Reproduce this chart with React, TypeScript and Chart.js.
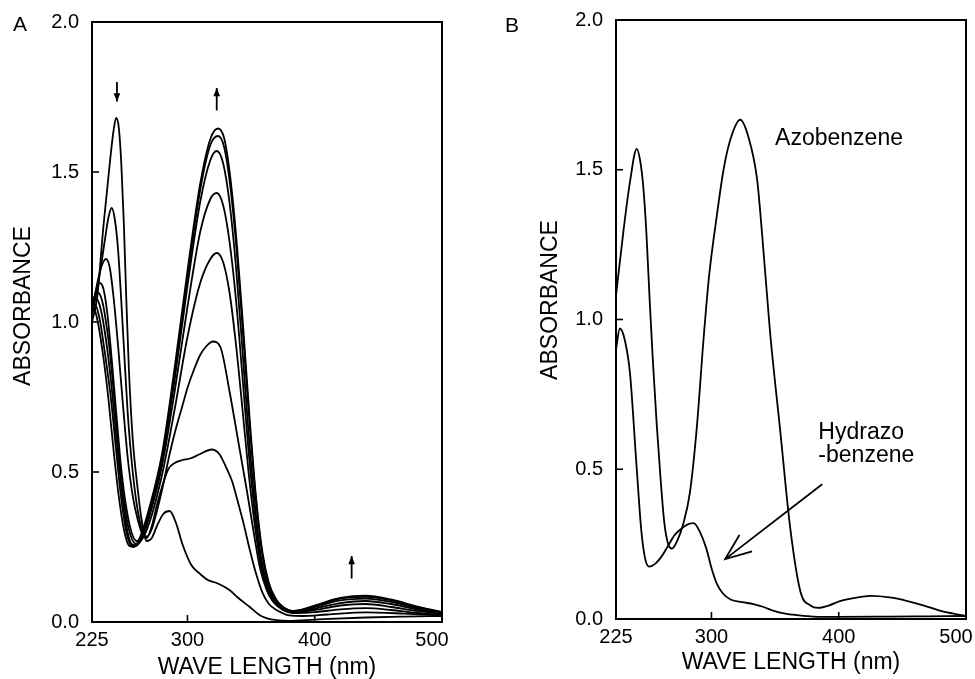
import React, { useEffect, useRef } from "react";
import { Chart, registerables } from "chart.js";

Chart.register(...registerables);

const FONT = "'Liberation Sans', Arial, Helvetica, sans-serif";

// ---------- Panel A: spectra over time (8 curves) ----------
const wlA0 = [225, 229, 234, 239, 242, 244, 246, 248, 250, 252, 254, 257, 261, 264, 268, 272, 276, 281, 286, 291, 296, 303, 310, 316, 323, 333, 340, 349, 356, 362, 370, 380, 400, 440, 470, 500];
const absA0 = [1.0, 1.08, 1.32, 1.53, 1.64, 1.68, 1.65, 1.53, 1.33, 1.07, 0.84, 0.61, 0.44, 0.34, 0.27, 0.28, 0.32, 0.36, 0.37, 0.33, 0.26, 0.19, 0.16, 0.14, 0.13, 0.107, 0.08, 0.05, 0.025, 0.013, 0.006, 0.004, 0.008, 0.015, 0.018, 0.02];

const wlA1 = [225, 230, 235, 238, 240.5, 243, 245.5, 248, 250, 253, 257, 261, 265, 268, 272, 276, 280, 285, 290, 296, 302, 310, 319, 325, 331, 335, 339, 344, 349, 354, 359, 364, 370, 380, 390, 410, 440, 470, 500];
const absA1 = [1.02, 1.13, 1.27, 1.35, 1.38, 1.34, 1.24, 1.07, 0.92, 0.7, 0.5, 0.37, 0.3, 0.28, 0.32, 0.39, 0.45, 0.51, 0.53, 0.54, 0.545, 0.56, 0.575, 0.56, 0.51, 0.47, 0.41, 0.33, 0.24, 0.16, 0.097, 0.06, 0.04, 0.022, 0.02, 0.025, 0.032, 0.028, 0.022];

const wlA2 = [225, 228.7, 232, 236, 239, 242, 245.7, 249, 253, 257, 261, 265, 268, 272, 276, 280, 286, 290, 296, 300, 305, 310, 315, 320, 326, 333, 340, 347, 352, 357, 362, 367, 375, 385, 400, 420, 440, 460, 480, 500];
const absA2 = [1.04, 1.12, 1.18, 1.21, 1.18, 1.08, 0.91, 0.74, 0.55, 0.42, 0.34, 0.29, 0.285, 0.31, 0.37, 0.44, 0.56, 0.63, 0.72, 0.78, 0.84, 0.89, 0.92, 0.935, 0.915, 0.77, 0.6, 0.43, 0.3, 0.18, 0.11, 0.07, 0.042, 0.03, 0.033, 0.042, 0.046, 0.04, 0.03, 0.025];

const wlA3 = [225, 228, 231, 234, 237, 240, 244, 248, 252, 256, 260, 264, 270, 280, 290, 300, 310, 318, 323, 328, 333, 338, 343, 348, 353, 358, 363, 368, 375, 383, 400, 420, 440, 460, 480, 500];
const absA3 = [1.05, 1.1, 1.13, 1.11, 1.03, 0.9, 0.7, 0.51, 0.38, 0.3, 0.27, 0.275, 0.33, 0.49, 0.71, 0.95, 1.13, 1.21, 1.23, 1.2, 1.1, 0.93, 0.72, 0.5, 0.32, 0.18, 0.1, 0.065, 0.04, 0.03, 0.04, 0.055, 0.06, 0.05, 0.037, 0.028];

const wlA4 = [225, 229, 233, 237, 240, 244, 248, 252, 256, 260, 264, 270, 280, 290, 300, 310, 318, 323, 328, 333, 338, 343, 348, 353, 358, 363, 368, 375, 383, 400, 420, 440, 460, 480, 500];
const absA4 = [1.06, 1.1, 1.07, 0.97, 0.86, 0.67, 0.48, 0.35, 0.28, 0.26, 0.275, 0.35, 0.52, 0.77, 1.05, 1.3, 1.41, 1.43, 1.39, 1.27, 1.08, 0.83, 0.57, 0.36, 0.2, 0.11, 0.07, 0.045, 0.033, 0.045, 0.063, 0.07, 0.06, 0.042, 0.03];

const wlA5 = [225, 228, 232, 236, 240, 244, 248, 252, 256, 260, 265, 270, 280, 290, 300, 310, 318, 323, 328, 333, 338, 343, 348, 353, 358, 363, 368, 375, 383, 400, 420, 440, 460, 480, 500];
const absA5 = [1.06, 1.08, 1.04, 0.94, 0.8, 0.62, 0.45, 0.32, 0.26, 0.255, 0.29, 0.36, 0.54, 0.81, 1.12, 1.4, 1.54, 1.57, 1.53, 1.4, 1.19, 0.92, 0.63, 0.39, 0.21, 0.12, 0.075, 0.046, 0.035, 0.05, 0.072, 0.078, 0.067, 0.046, 0.031];

const wlA6 = [225, 227, 231, 235, 240, 244, 248, 252, 256, 260, 265, 270, 280, 290, 300, 310, 318, 324, 329, 334, 339, 344, 349, 354, 359, 364, 369, 375, 383, 400, 420, 440, 460, 480, 500];
const absA6 = [1.05, 1.06, 1.01, 0.9, 0.74, 0.57, 0.41, 0.3, 0.255, 0.255, 0.295, 0.37, 0.55, 0.83, 1.15, 1.44, 1.59, 1.62, 1.58, 1.44, 1.22, 0.94, 0.65, 0.4, 0.22, 0.12, 0.075, 0.05, 0.036, 0.052, 0.078, 0.084, 0.072, 0.05, 0.032];

const wlA7 = [225, 226, 230, 234, 238, 242, 246, 250, 254, 258, 263, 270, 280, 290, 300, 310, 318, 324, 329, 334, 339, 344, 349, 354, 359, 364, 369, 375, 383, 400, 420, 440, 460, 480, 500];
const absA7 = [1.05, 1.05, 0.99, 0.88, 0.74, 0.57, 0.42, 0.31, 0.255, 0.25, 0.285, 0.38, 0.56, 0.85, 1.17, 1.46, 1.61, 1.645, 1.61, 1.47, 1.25, 0.97, 0.67, 0.41, 0.23, 0.13, 0.08, 0.05, 0.037, 0.055, 0.08, 0.088, 0.075, 0.052, 0.033];

// ---------- Panel B: reference spectra ----------
const wlAzo = [225, 230.7, 236, 241.3, 244, 246.5, 249, 251.5, 254, 257, 260, 263, 266, 269, 273, 278, 283, 288.5, 293.7, 298, 304, 309.5, 314.8, 322.6, 329, 335.8, 339.7, 346, 354, 362, 370, 377.8, 384, 392, 401, 412, 425, 440, 454, 467, 480, 490, 500];
const absAzo = [1.08, 1.29, 1.46, 1.57, 1.53, 1.44, 1.28, 1.06, 0.86, 0.65, 0.47, 0.32, 0.25, 0.235, 0.26, 0.32, 0.42, 0.64, 0.93, 1.14, 1.34, 1.5, 1.6, 1.667, 1.61, 1.47, 1.29, 0.96, 0.63, 0.3, 0.09, 0.045, 0.037, 0.045, 0.06, 0.07, 0.077, 0.072, 0.06, 0.045, 0.027, 0.018, 0.01];

const wlHyd = [225, 228, 232, 236, 241, 245, 248, 251, 256, 261, 266, 271, 276, 281, 286, 291, 296, 300, 304, 309, 315, 324, 333, 341, 349, 358, 367, 380, 400, 440, 470, 500];
const absHyd = [0.9, 0.97, 0.93, 0.82, 0.52, 0.29, 0.2, 0.175, 0.185, 0.21, 0.245, 0.28, 0.3, 0.315, 0.32, 0.29, 0.235, 0.17, 0.12, 0.085, 0.065, 0.056, 0.05, 0.04, 0.027, 0.018, 0.013, 0.008, 0.007, 0.008, 0.009, 0.01];

// ---------- Axes / labels ----------
const xTicks = [225, 300, 400, 500];
const yTicks = [0, 0.5, 1.0, 1.5, 2.0];
const xTitle = "WAVE LENGTH (nm)";
const yTitle = "ABSORBANCE";
const labelAzo = "Azobenzene";
const labelHyd1 = "Hydrazo";
const labelHyd2 = "-benzene";

type Pt = { x: number; y: number };
const toPoints = (wl: number[], ab: number[]): Pt[] => wl.map((x, i) => ({ x, y: ab[i] }));

function drawArrow(ctx: CanvasRenderingContext2D, x1: number, y1: number, x2: number, y2: number, headLen: number, headAng: number, filled: boolean) {
  const ang = Math.atan2(y2 - y1, x2 - x1);
  ctx.beginPath();
  ctx.moveTo(x1, y1);
  ctx.lineTo(x2, y2);
  ctx.stroke();
  const ax = x2 - headLen * Math.cos(ang - headAng);
  const ay = y2 - headLen * Math.sin(ang - headAng);
  const bx = x2 - headLen * Math.cos(ang + headAng);
  const by = y2 - headLen * Math.sin(ang + headAng);
  ctx.beginPath();
  if (filled) {
    ctx.moveTo(x2, y2);
    ctx.lineTo(ax, ay);
    ctx.lineTo(bx, by);
    ctx.closePath();
    ctx.fill();
  } else {
    ctx.moveTo(ax, ay);
    ctx.lineTo(x2, y2);
    ctx.lineTo(bx, by);
    ctx.stroke();
  }
}

const decoPlugin = {
  id: "panelDeco",
  afterDraw(chart: any, _args: any, opts: any) {
    const { ctx, chartArea: ca, scales } = chart;
    const xs = scales.x;
    const ys = scales.y;
    ctx.save();
    ctx.strokeStyle = "#000";
    ctx.fillStyle = "#000";
    ctx.lineWidth = 2;
    ctx.strokeRect(ca.left, ca.top, ca.right - ca.left, ca.bottom - ca.top);

    // inner tick marks
    ctx.lineWidth = 1.6;
    xTicks.forEach((v) => {
      if (v <= xs.min || v >= xs.max) return;
      const px = xs.getPixelForValue(v);
      ctx.beginPath();
      ctx.moveTo(px, ca.bottom);
      ctx.lineTo(px, ca.bottom - 7);
      ctx.stroke();
    });
    yTicks.forEach((v) => {
      if (v <= ys.min || v >= ys.max) return;
      const py = ys.getPixelForValue(v);
      ctx.beginPath();
      ctx.moveTo(ca.left, py);
      ctx.lineTo(ca.left + 7, py);
      ctx.stroke();
    });

    // x tick labels
    ctx.font = `20px ${FONT}`;
    ctx.textAlign = "center";
    ctx.textBaseline = "middle";
    xTicks.forEach((v, i) => {
      let px = xs.getPixelForValue(v);
      if (i === xTicks.length - 1) px -= 10;
      ctx.fillText(String(v), px, ca.bottom + 18);
    });

    // panel letter
    ctx.font = `21px ${FONT}`;
    ctx.textAlign = "left";
    ctx.textBaseline = "alphabetic";
    ctx.fillText(opts.letter, opts.letterX, opts.letterY);

    // y title
    ctx.save();
    ctx.font = `23px ${FONT}`;
    ctx.textAlign = "center";
    ctx.textBaseline = "middle";
    ctx.translate(opts.yTitleX, opts.yTitleY);
    ctx.rotate(-Math.PI / 2);
    ctx.fillText(yTitle, 0, 0);
    ctx.restore();

    // text annotations (data coordinates)
    ctx.font = `23px ${FONT}`;
    ctx.textAlign = "left";
    ctx.textBaseline = "alphabetic";
    (opts.texts || []).forEach((t: any) => {
      ctx.fillText(t.text, xs.getPixelForValue(t.x), ys.getPixelForValue(t.y));
    });

    // arrows (data coordinates)
    ctx.lineWidth = 1.8;
    (opts.arrows || []).forEach((a: any) => {
      drawArrow(
        ctx,
        xs.getPixelForValue(a.x1),
        ys.getPixelForValue(a.y1),
        xs.getPixelForValue(a.x2),
        ys.getPixelForValue(a.y2),
        a.head,
        a.ang,
        a.filled
      );
    });
    ctx.restore();
  },
};

function makeConfig(datasets: Pt[][], p: any) {
  return {
    type: "line" as const,
    data: {
      datasets: datasets.map((d) => ({
        data: d,
        borderColor: "#000",
        borderWidth: 1.8,
        pointRadius: 0,
        fill: false,
        cubicInterpolationMode: "monotone" as const,
      })),
    },
    options: {
      animation: false as const,
      responsive: false,
      events: [],
      layout: { padding: p.padding },
      plugins: {
        legend: { display: false },
        tooltip: { enabled: false },
        panelDeco: p.deco,
      },
      scales: {
        x: {
          type: "linear" as const,
          min: 225,
          max: 500,
          grid: { display: false, drawTicks: false },
          border: { display: false },
          ticks: { display: false },
          afterBuildTicks: (s: any) => {
            s.ticks = xTicks.map((v) => ({ value: v }));
          },
          afterFit: (s: any) => {
            s.height = p.xHeight;
            s.paddingLeft = 0;
            s.paddingRight = 0;
          },
          title: {
            display: true,
            text: xTitle,
            color: "#000",
            font: { family: FONT, size: 23, lineHeight: 1 },
            padding: { top: 0, bottom: p.xTitlePad },
          },
        },
        y: {
          type: "linear" as const,
          min: 0,
          max: 2,
          grid: { display: false, drawTicks: false },
          border: { display: false },
          afterBuildTicks: (s: any) => {
            s.ticks = yTicks.map((v) => ({ value: v }));
          },
          afterFit: (s: any) => {
            s.width = p.yWidth;
            s.paddingTop = 0;
            s.paddingBottom = 0;
          },
          ticks: {
            color: "#000",
            padding: 13,
            font: { family: FONT, size: 20 },
            callback: (v: any) => Number(v).toFixed(1),
          },
        },
      },
    },
    plugins: [decoPlugin],
  };
}

export default function App() {
  const refA = useRef<HTMLCanvasElement>(null);
  const refB = useRef<HTMLCanvasElement>(null);

  useEffect(() => {
    const seriesA = [
      toPoints(wlA0, absA0),
      toPoints(wlA1, absA1),
      toPoints(wlA2, absA2),
      toPoints(wlA3, absA3),
      toPoints(wlA4, absA4),
      toPoints(wlA5, absA5),
      toPoints(wlA6, absA6),
      toPoints(wlA7, absA7),
    ];
    const seriesB = [toPoints(wlAzo, absAzo), toPoints(wlHyd, absHyd)];

    const chartA = new Chart(
      refA.current as HTMLCanvasElement,
      makeConfig(seriesA, {
        padding: { left: 0, right: 48, top: 22, bottom: 0 },
        xHeight: 57,
        yWidth: 92,
        xTitlePad: 0,
        deco: {
          letter: "A",
          letterX: 13,
          letterY: 31,
          yTitleX: 24,
          yTitleY: 306,
          texts: [],
          arrows: [
            { x1: 244.6, y1: 1.8, x2: 244.6, y2: 1.735, head: 9, ang: 0.38, filled: true },
            { x1: 323, y1: 1.705, x2: 323, y2: 1.78, head: 9, ang: 0.38, filled: true },
            { x1: 429, y1: 0.145, x2: 429, y2: 0.22, head: 9, ang: 0.38, filled: true },
          ],
        },
      }) as any
    );

    const chartB = new Chart(
      refB.current as HTMLCanvasElement,
      makeConfig(seriesB, {
        padding: { left: 0, right: 9, top: 20, bottom: 0 },
        xHeight: 60,
        yWidth: 126,
        xTitlePad: 4.5,
        deco: {
          letter: "B",
          letterX: 15,
          letterY: 32,
          yTitleX: 61,
          yTitleY: 300,
          texts: [
            { text: labelAzo, x: 350, y: 1.583 },
            { text: labelHyd1, x: 384, y: 0.6 },
            { text: labelHyd2, x: 384, y: 0.524 },
          ],
          arrows: [{ x1: 387, y1: 0.45, x2: 310.8, y2: 0.2, head: 28, ang: 0.38, filled: false }],
        },
      }) as any
    );

    return () => {
      chartA.destroy();
      chartB.destroy();
    };
  }, []);

  return (
    <div style={{ position: "absolute", left: 0, top: 0, width: 975, height: 679, background: "#fff", overflow: "hidden" }}>
      <canvas ref={refA} width={490} height={679} style={{ position: "absolute", left: 0, top: 0 }} />
      <canvas ref={refB} width={485} height={679} style={{ position: "absolute", left: 490, top: 0 }} />
    </div>
  );
}
